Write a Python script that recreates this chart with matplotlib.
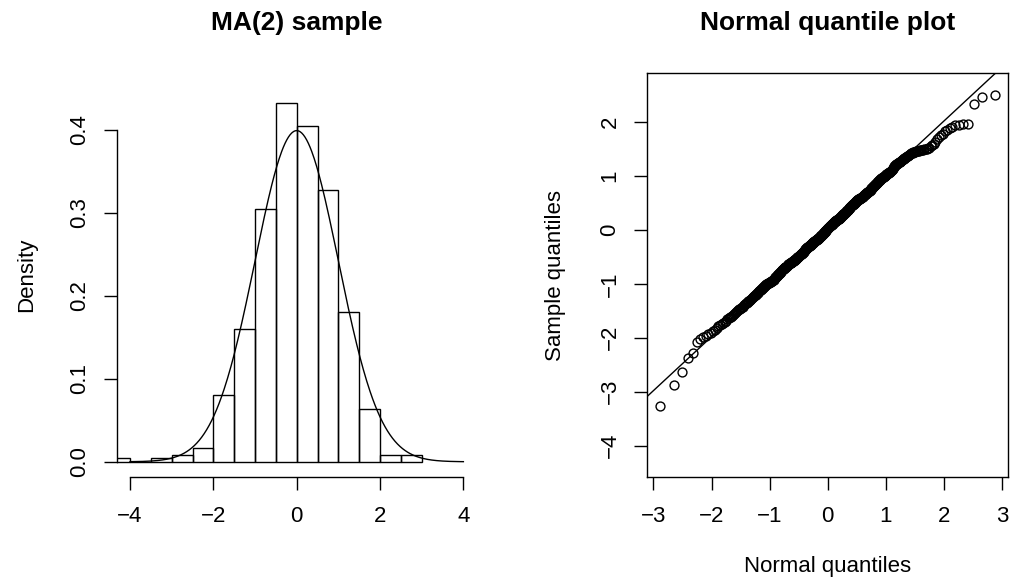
import statistics
import numpy as np
import matplotlib
matplotlib.use('Agg')
import matplotlib.pyplot as plt
from matplotlib.ticker import FixedLocator, FixedFormatter

plt.rcParams['font.family'] = ['Liberation Sans', 'DejaVu Sans']

# HISTOGRAM (bin edges and densities)
hist_edges = [-4.5, -4.0, -3.5, -3.0, -2.5, -2.0, -1.5, -1.0, -0.5,
              0.0, 0.5, 1.0, 1.5, 2.0, 2.5, 3.0]
hist_density = [0.004, 0.0, 0.004, 0.008, 0.016, 0.080, 0.160, 0.304,
                0.432, 0.404, 0.328, 0.180, 0.064, 0.008, 0.008]
hist_xticks = [-4, -2, 0, 2, 4]
hist_xlabels = ['\u22124', '\u22122', '0', '2', '4']
hist_yticks = [0.0, 0.1, 0.2, 0.3, 0.4]
hist_ylabels = ['0.0', '0.1', '0.2', '0.3', '0.4']
hist_xrange = (-4, 4)
hist_yrange = (0, 0.45)

# normal density overlay
curve_mean = 0.0
curve_sd = 1.0
curve_from, curve_to = -4, 4

# QQ PLOT: sorted sample values
qq_sample = [
    -3.27, -2.88, -2.63, -2.37, -2.28, -2.07, -2.03, -1.99, -1.96, -1.93,
    -1.91, -1.88, -1.85, -1.82, -1.79, -1.77, -1.75, -1.73, -1.70, -1.68,
    -1.66, -1.64, -1.62, -1.61, -1.59, -1.57, -1.55, -1.54, -1.52, -1.50,
    -1.49, -1.47, -1.46, -1.44, -1.43, -1.42, -1.40, -1.39, -1.37, -1.36,
    -1.35, -1.34, -1.32, -1.31, -1.30, -1.29, -1.28, -1.26, -1.25, -1.24,
    -1.23, -1.22, -1.21, -1.20, -1.19, -1.17, -1.16, -1.15, -1.14, -1.13,
    -1.12, -1.11, -1.10, -1.09, -1.08, -1.07, -1.06, -1.05, -1.04, -1.03,
    -1.02, -1.02, -1.01, -1.01, -1.00, -0.99, -0.99, -0.98, -0.98, -0.97,
    -0.96, -0.96, -0.95, -0.94, -0.94, -0.93, -0.92, -0.92, -0.91, -0.90,
    -0.89, -0.88, -0.87, -0.87, -0.86, -0.85, -0.84, -0.83, -0.82, -0.81,
    -0.80, -0.79, -0.79, -0.78, -0.77, -0.76, -0.75, -0.75, -0.74, -0.73,
    -0.72, -0.72, -0.71, -0.71, -0.70, -0.69, -0.69, -0.68, -0.68, -0.67,
    -0.66, -0.66, -0.65, -0.65, -0.64, -0.64, -0.63, -0.63, -0.62, -0.62,
    -0.61, -0.61, -0.60, -0.60, -0.59, -0.59, -0.58, -0.58, -0.57, -0.57,
    -0.56, -0.56, -0.55, -0.55, -0.54, -0.54, -0.53, -0.53, -0.52, -0.52,
    -0.51, -0.51, -0.50, -0.50, -0.49, -0.48, -0.48, -0.47, -0.47, -0.46,
    -0.45, -0.45, -0.44, -0.44, -0.43, -0.42, -0.42, -0.41, -0.41, -0.40,
    -0.39, -0.39, -0.38, -0.37, -0.37, -0.36, -0.35, -0.35, -0.34, -0.33,
    -0.33, -0.32, -0.32, -0.31, -0.31, -0.30, -0.30, -0.29, -0.29, -0.28,
    -0.28, -0.27, -0.27, -0.27, -0.26, -0.26, -0.25, -0.25, -0.24, -0.24,
    -0.23, -0.23, -0.22, -0.22, -0.21, -0.21, -0.20, -0.20, -0.19, -0.19,
    -0.19, -0.18, -0.18, -0.17, -0.17, -0.17, -0.16, -0.16, -0.15, -0.15,
    -0.14, -0.14, -0.13, -0.13, -0.12, -0.12, -0.11, -0.11, -0.10, -0.10,
    -0.09, -0.09, -0.08, -0.07, -0.07, -0.06, -0.05, -0.05, -0.04, -0.03,
    -0.03, -0.02, -0.01, -0.01, 0.00, 0.00, 0.01, 0.02, 0.02, 0.03,
    0.03, 0.04, 0.04, 0.05, 0.05, 0.06, 0.07, 0.07, 0.08, 0.08,
    0.09, 0.09, 0.10, 0.10, 0.11, 0.11, 0.12, 0.12, 0.13, 0.13,
    0.14, 0.14, 0.15, 0.15, 0.16, 0.16, 0.16, 0.17, 0.17, 0.18,
    0.18, 0.18, 0.19, 0.19, 0.20, 0.20, 0.20, 0.21, 0.21, 0.22,
    0.22, 0.23, 0.23, 0.24, 0.24, 0.25, 0.26, 0.26, 0.27, 0.27,
    0.28, 0.28, 0.29, 0.29, 0.30, 0.30, 0.31, 0.31, 0.32, 0.32,
    0.33, 0.34, 0.34, 0.35, 0.35, 0.36, 0.37, 0.37, 0.38, 0.38,
    0.39, 0.40, 0.40, 0.41, 0.42, 0.42, 0.43, 0.44, 0.44, 0.45,
    0.46, 0.46, 0.47, 0.47, 0.48, 0.48, 0.49, 0.49, 0.50, 0.50,
    0.51, 0.52, 0.52, 0.53, 0.53, 0.54, 0.55, 0.55, 0.56, 0.56,
    0.57, 0.57, 0.58, 0.58, 0.58, 0.59, 0.59, 0.60, 0.60, 0.60,
    0.61, 0.61, 0.62, 0.62, 0.63, 0.63, 0.64, 0.64, 0.65, 0.65,
    0.66, 0.67, 0.67, 0.68, 0.68, 0.69, 0.70, 0.70, 0.71, 0.71,
    0.72, 0.73, 0.73, 0.74, 0.75, 0.75, 0.76, 0.77, 0.77, 0.78,
    0.79, 0.80, 0.81, 0.81, 0.82, 0.83, 0.84, 0.85, 0.85, 0.86,
    0.87, 0.88, 0.89, 0.89, 0.90, 0.91, 0.92, 0.93, 0.93, 0.94,
    0.95, 0.96, 0.96, 0.97, 0.98, 0.98, 0.99, 1.00, 1.00, 1.01,
    1.02, 1.02, 1.03, 1.04, 1.04, 1.05, 1.05, 1.06, 1.07, 1.07,
    1.08, 1.09, 1.11, 1.12, 1.14, 1.15, 1.16, 1.18, 1.19, 1.21,
    1.22, 1.23, 1.23, 1.24, 1.25, 1.26, 1.27, 1.27, 1.28, 1.29,
    1.30, 1.31, 1.32, 1.33, 1.34, 1.35, 1.36, 1.37, 1.38, 1.39,
    1.40, 1.41, 1.42, 1.42, 1.43, 1.44, 1.45, 1.45, 1.46, 1.46,
    1.47, 1.47, 1.48, 1.48, 1.49, 1.49, 1.50, 1.51, 1.51, 1.52,
    1.53, 1.55, 1.57, 1.60, 1.64, 1.68, 1.72, 1.76, 1.79, 1.83,
    1.86, 1.89, 1.92, 1.94, 1.95, 1.96, 1.96, 2.34, 2.47, 2.51,
]
qq_line_intercept = 0.02
qq_line_slope = 1.0
qq_yrange = (-4.3, 2.63)
qq_xticks = [-3, -2, -1, 0, 1, 2, 3]
qq_xlabels = ['\u22123', '\u22122', '\u22121', '0', '1', '2', '3']
qq_yticks = [-4, -3, -2, -1, 0, 1, 2]
qq_ylabels = ['\u22124', '\u22123', '\u22122', '\u22121', '0', '1', '2']


def expand(lo, hi, frac=0.04):
	'''R-style 4% axis expansion'''
	d = (hi - lo) * frac
	return lo - d, hi + d


FS = 16
TITLE_FS = 19
TICK_LEN = 9.1
LW = 1.0

fig = plt.figure(figsize=(10.13, 5.84), dpi=100)
ax1 = fig.add_axes([0.1152, 0.1837, 0.3554, 0.6908])
ax2 = fig.add_axes([0.6388, 0.1837, 0.3565, 0.6908])

# LEFT -- HISTOGRAM
edges = np.array(hist_edges)
ax1.bar(edges[:-1], hist_density, width=np.diff(edges), align='edge',
        fill=False, edgecolor='black', linewidth=LW)
nd = statistics.NormalDist(curve_mean, curve_sd)
xs = np.linspace(curve_from, curve_to, 401)
ax1.plot(xs, [nd.pdf(v) for v in xs], color='black', linewidth=LW)
ax1.set_xlim(*expand(*hist_xrange))
ax1.set_ylim(*expand(*hist_yrange))
for side in ['top', 'right']:
	ax1.spines[side].set_visible(False)
ax1.spines['left'].set_bounds(hist_yticks[0], hist_yticks[-1])
ax1.spines['bottom'].set_bounds(hist_xticks[0], hist_xticks[-1])
ax1.xaxis.set_major_locator(FixedLocator(hist_xticks))
ax1.xaxis.set_major_formatter(FixedFormatter(hist_xlabels))
ax1.yaxis.set_major_locator(FixedLocator(hist_yticks))
ax1.yaxis.set_major_formatter(FixedFormatter(hist_ylabels))
ax1.set_ylabel('Density', fontsize=FS, va='center')
ax1.yaxis.set_label_coords(-0.25, 0.5)
ax1.text(0.5, 1.1073, 'MA(2) sample', transform=ax1.transAxes, ha='center',
         va='baseline', fontsize=TITLE_FS, fontweight='bold')

# RIGHT -- NORMAL QQ
sample = np.sort(np.array(qq_sample))
n = len(sample)
std = statistics.NormalDist()
theo = np.array([std.inv_cdf(i / (n + 1)) for i in range(1, n + 1)])
ax2.plot(theo, sample, linestyle='none', marker='o', markersize=6.4,
         markerfacecolor='none', markeredgecolor='black', markeredgewidth=LW)
ax2.axline((0, qq_line_intercept), slope=qq_line_slope, color='black',
           linewidth=LW)
ax2.set_xlim(*expand(theo.min(), theo.max()))
ax2.set_ylim(*expand(*qq_yrange))
ax2.xaxis.set_major_locator(FixedLocator(qq_xticks))
ax2.xaxis.set_major_formatter(FixedFormatter(qq_xlabels))
ax2.yaxis.set_major_locator(FixedLocator(qq_yticks))
ax2.yaxis.set_major_formatter(FixedFormatter(qq_ylabels))
ax2.set_xlabel('Normal quantiles', fontsize=FS, va='center')
ax2.xaxis.set_label_coords(0.5, -0.2231)
ax2.set_ylabel('Sample quantiles', fontsize=FS, va='center')
ax2.yaxis.set_label_coords(-0.255, 0.5)
ax2.text(0.5, 1.1073, 'Normal quantile plot', transform=ax2.transAxes,
         ha='center', va='baseline', fontsize=TITLE_FS, fontweight='bold')

for ax in (ax1, ax2):
	for sp in ax.spines.values():
		sp.set_linewidth(LW)
	ax.tick_params(axis='both', direction='out', length=TICK_LEN, width=LW,
	               labelsize=FS, colors='black')
	ax.tick_params(axis='x', pad=12)
	ax.tick_params(axis='y', pad=10, labelrotation=90)
	for lab in ax.get_yticklabels():
		lab.set_va('center')

fig.savefig('out.png', dpi=100)
plt.close(fig)
